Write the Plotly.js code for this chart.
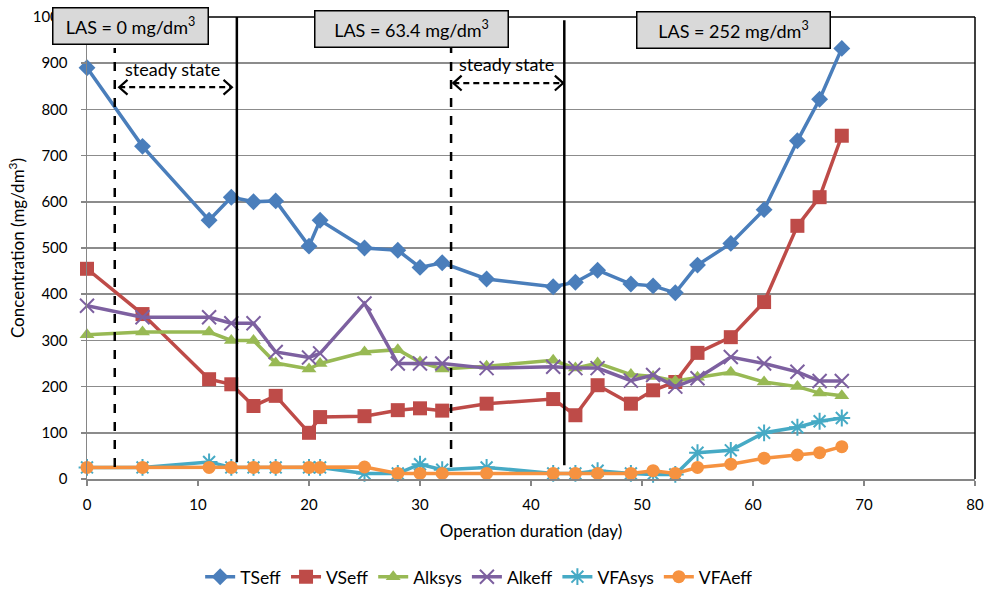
<!DOCTYPE html>
<html>
<head>
<meta charset="utf-8">
<script src="https://cdn.plot.ly/plotly-3.0.1.min.js"></script>
<style>html,body{margin:0;padding:0;background:#fff;}#chart{width:990px;height:591px;}</style>
</head>
<body>
<div id="chart"></div>
<script>
var days = [0, 5, 11, 13, 15, 17, 20, 21, 25, 28, 30, 32, 36, 42, 44, 46, 49, 51, 53, 55, 58, 61, 64, 66, 68];
var TSeff  = [890, 720, 560, 610, 600, 602, 504, 560, 500, 495, 458, 468, 433, 416, 426, 452, 422, 418, 403, 463, 510, 583, 732, 822, 932];
var VSeff  = [455, 357, 216, 205, 158, 180, 100, 134, 136, 149, 153, 148, 163, 173, 138, 203, 163, 192, 210, 273, 307, 383, 548, 610, 743];
var Alksys = [312, 318, 318, 300, 300, 251, 238, 250, 275, 280, 253, 238, 244, 257, 240, 251, 226, 222, 212, 220, 231, 210, 200, 186, 180];
var Alkeff = [375, 350, 350, 337, 337, 275, 263, 272, 380, 250, 250, 250, 240, 243, 240, 240, 213, 225, 200, 218, 264, 250, 232, 212, 212];
var VFAsys = [25, 25, 37, 25, 25, 25, 25, 25, 12, 12, 32, 20, 25, 12, 12, 18, 12, 10, 10, 57, 62, 100, 112, 125, 132];
var VFAeff = [25, 25, 25, 25, 25, 25, 25, 25, 26, 12, 12, 12, 12, 12, 12, 12, 12, 18, 12, 25, 32, 45, 52, 57, 70];

var seriesNames = ['TSeff', 'VSeff', 'Alksys', 'Alkeff', 'VFAsys', 'VFAeff'];
var seriesData = [TSeff, VSeff, Alksys, Alkeff, VFAsys, VFAeff];
var colors = ['#4A7EBB', '#BE4B48', '#98B954', '#7D60A0', '#46AAC5', '#F69240'];
var symbols = ['diamond', 'square', 'triangle-up', 'x-thin-open', 'asterisk-open', 'circle'];
var sizes = [13, 14, 13, 14, 14, 13];

var xTicks = [0, 10, 20, 30, 40, 50, 60, 70, 80];
var yTicks = [0, 100, 200, 300, 400, 500, 600, 700, 800, 900, 1000];

var FONT = 'Lato, "Open Sans", sans-serif';

var traces = seriesNames.map(function (n, i) {
  return {
    x: days, y: seriesData[i], name: n, type: 'scatter', mode: 'lines+markers',
    line: {color: colors[i], width: 3.5},
    marker: {symbol: symbols[i], size: sizes[i], color: colors[i],
             line: {color: colors[i], width: (symbols[i].indexOf('open') >= 0 ? 2 : 0)}},
    cliponaxis: false
  };
});

// vertical phase lines (x in days, y in concentration units)
var vlines = [
  {x: 2.5,  y0: 26, y1: 933, dash: 'dash'},
  {x: 13.5, y0: 37, y1: 1000, dash: 'solid'},
  {x: 32.8, y0: 26, y1: 933, dash: 'dash'},
  {x: 43.0, y0: 30, y1: 993, dash: 'solid'}
];
var shapes = vlines.map(function (v) {
  return {type: 'line', xref: 'x', yref: 'y', x0: v.x, x1: v.x, y0: v.y0, y1: v.y1,
          line: {color: '#000', width: 2.5, dash: v.dash}, layer: 'above'};
});
// plot-area border (top & right)
shapes.push({type: 'line', xref: 'paper', yref: 'paper', x0: 0, x1: 1, y0: 1, y1: 1, line: {color: '#000', width: 1.5}});
shapes.push({type: 'line', xref: 'paper', yref: 'paper', x0: 1, x1: 1, y0: 0, y1: 1, line: {color: '#000', width: 1.5}});

// steady-state double arrows
var arrows = [{xa: 2.9, xb: 13.05, y: 848}, {xa: 33.0, xb: 42.9, y: 857}];
arrows.forEach(function (a) {
  shapes.push({type: 'line', xref: 'x', yref: 'y', x0: a.xa, x1: a.xb, y0: a.y, y1: a.y,
               line: {color: '#000', width: 2.2, dash: '6px,4px'}});
  var dx = 0.75, dy = 16;
  shapes.push({type: 'path', xref: 'x', yref: 'y',
               path: 'M ' + (a.xa + dx) + ' ' + (a.y + dy) + ' L ' + a.xa + ' ' + a.y + ' L ' + (a.xa + dx) + ' ' + (a.y - dy),
               line: {color: '#000', width: 2.2}});
  shapes.push({type: 'path', xref: 'x', yref: 'y',
               path: 'M ' + (a.xb - dx) + ' ' + (a.y + dy) + ' L ' + a.xb + ' ' + a.y + ' L ' + (a.xb - dx) + ' ' + (a.y - dy),
               line: {color: '#000', width: 2.2}});
});

var boxStyle = {xref: 'paper', yref: 'paper', showarrow: false, bgcolor: '#D9D9D9',
                bordercolor: '#000', borderwidth: 1.5, height: 33,
                font: {family: FONT, size: 18, color: '#000'}, xanchor: 'center', yanchor: 'middle'};
function box(text, x, y, w) {
  var o = Object.assign({}, boxStyle);
  o.text = text; o.x = x; o.y = y; o.width = w;
  return o;
}
var annotations = [
  box('LAS = 0 mg/dm<sup>3</sup>', 0.049, 0.9805, 152),
  box('LAS = 63.4 mg/dm<sup>3</sup>', 0.3654, 0.9751, 190),
  box('LAS = 252 mg/dm<sup>3</sup>', 0.728, 0.9729, 190),
  {xref: 'x', yref: 'y', x: 7.66, y: 887, text: 'steady state', showarrow: false,
   font: {family: FONT, size: 18, color: '#000'}},
  {xref: 'x', yref: 'y', x: 37.8, y: 898, text: 'steady state', showarrow: false,
   font: {family: FONT, size: 18, color: '#000'}}
];

var layout = {
  width: 990, height: 591,
  margin: {l: 87, r: 15, t: 17, b: 112},
  paper_bgcolor: '#fff', plot_bgcolor: '#fff',
  font: {family: FONT, color: '#000'},
  showlegend: true,
  legend: {orientation: 'h', x: 0.484, xanchor: 'center', xref: 'container',
           y: 0.024, yanchor: 'middle', yref: 'container',
           font: {family: FONT, size: 17.5, color: '#000'}, itemwidth: 30, traceorder: 'normal'},
  xaxis: {range: [0, 80], tickvals: xTicks, ticktext: xTicks.map(String), automargin: false,
          showgrid: false, zeroline: false, showline: true, linecolor: '#868686', linewidth: 1.5,
          ticks: 'outside', ticklen: 5, tickcolor: '#868686', tickwidth: 1.5,
          tickfont: {family: FONT, size: 15, color: '#000'}, ticklabelstandoff: 6,
          title: {text: 'Operation duration (day)', font: {family: FONT, size: 17, color: '#000'}, standoff: 13}},
  yaxis: {range: [0, 1000], tickvals: yTicks, ticktext: yTicks.map(String), automargin: false,
          showgrid: true, gridcolor: '#8C8C8C', gridwidth: 1.5, zeroline: false,
          showline: true, linecolor: '#868686', linewidth: 1.5,
          ticks: 'outside', ticklen: 5, tickcolor: '#868686', tickwidth: 1.5,
          tickfont: {family: FONT, size: 15, color: '#000'}, ticklabelstandoff: 10,
          title: {text: 'Concentration (mg/dm<sup>3</sup>)', font: {family: FONT, size: 17, color: '#000'}, standoff: 3}},
  shapes: shapes,
  annotations: annotations
};

Plotly.newPlot('chart', traces, layout, {displayModeBar: false, staticPlot: true});
</script>
</body>
</html>
